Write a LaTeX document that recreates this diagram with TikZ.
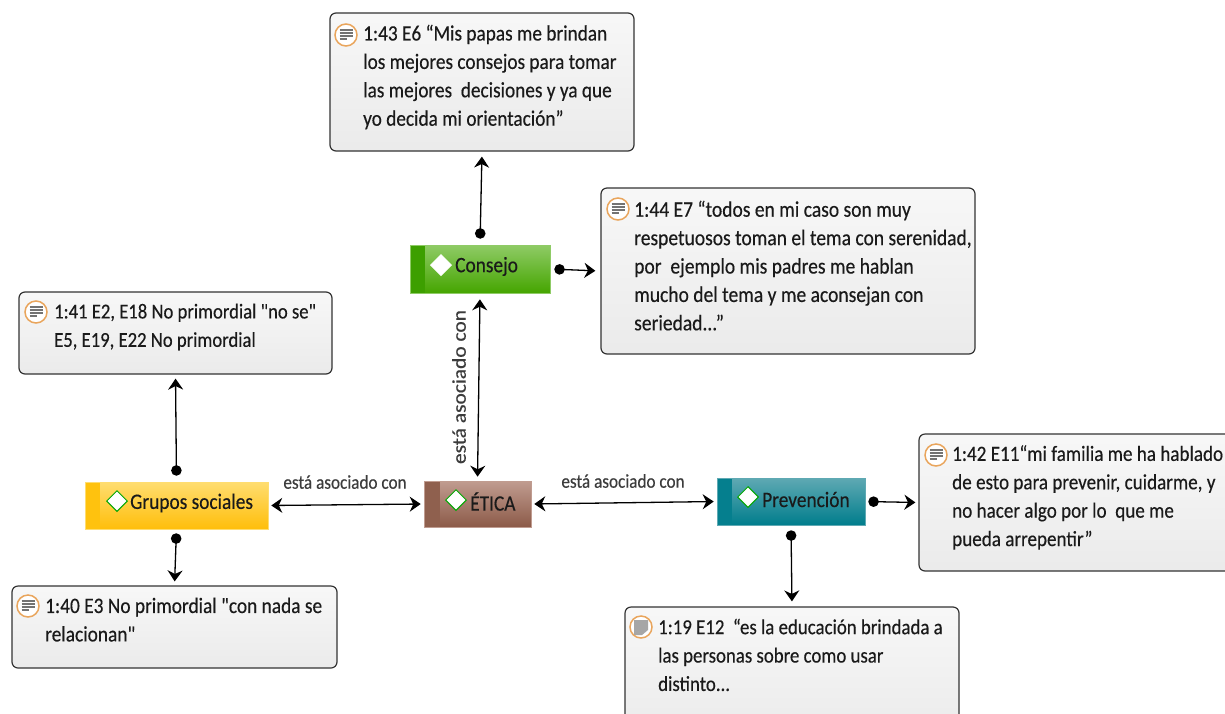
\documentclass[tikz,border=0pt]{standalone}
\usepackage{fontspec}
\setmainfont[Ligatures=TeXOff,FakeStretch=0.88,FakeBold=0.35]{Carlito}
\usetikzlibrary{arrows.meta,shapes.geometric}
\definecolor{txt}{HTML}{1A1A1A}
\definecolor{ring}{HTML}{E9A55C}
\definecolor{cgreen}{HTML}{45A500}
\definecolor{cgreenl}{HTML}{8FCB66}
\definecolor{cgreens}{HTML}{3D9F00}
\definecolor{cbrown}{HTML}{8C5A48}
\definecolor{cbrownl}{HTML}{C09C90}
\definecolor{cbrowns}{HTML}{8F604E}
\definecolor{cyel}{HTML}{FFBE0A}
\definecolor{cyell}{HTML}{FFDD70}
\definecolor{cyels}{HTML}{FFC20E}
\definecolor{cteal}{HTML}{007D8C}
\definecolor{ctealt}{HTML}{5FA9B3}
\definecolor{cteals}{HTML}{057F8E}
\tikzset{
  x=1pt,y=-1pt,
  memo/.style={draw=black!80,line width=1.2pt,rounded corners=6pt,top color=white!97!black,bottom color=white!92!black,inner sep=0pt},
  memotext/.style={anchor=north west,align=left,inner sep=0pt,text=txt,font=\fontsize{#1}{28.4}\selectfont},
  memotext/.default=22,
  codetext/.style={inner sep=0pt,text=txt,font=\fontsize{22}{24}\selectfont},
  codeicon/.style={diamond,aspect=1,fill=white,draw=#1,line width=1pt,inner sep=0pt,minimum size=21pt},
  link/.style={line width=1.3pt,black,{Stealth[length=11pt,width=15pt]}-{Stealth[length=11pt,width=15pt]}},
  dotlink/.style={line width=1.3pt,black,{Circle[length=10.5pt,width=10.5pt]}-{Stealth[length=11pt,width=15pt]}},
  rel/.style={inner sep=0pt,text=txt!85,font=\fontsize{19.5}{20}\selectfont},
  iconring/.style={circle,draw=ring,line width=1.5pt,fill=white,minimum size=22pt,inner sep=0pt},
}
\newcommand{\memoicon}[3]{%
  \node[iconring] (#1) at (#2,#3) {};
  \foreach \dy/\w in {-5.2/6.5,-2.1/6.5,1/6.5,4.1/3.5}
    \draw[black!55,line width=1.4pt] (#2-6.5,#3+\dy) -- (#2-6.5+2*\w,#3+\dy);
}
\begin{document}
\begin{tikzpicture}
\useasboundingbox (0,0) rectangle (1225,713);
\clip (0,0) rectangle (1225,713);
% memos
\node[memo,minimum width=304pt,minimum height=138pt] (m43) at (482,82) {};
\node[memo,minimum width=374pt,minimum height=166pt] (m44) at (788,271) {};
\node[memo,minimum width=313pt,minimum height=82pt] (m41) at (175.5,333) {};
\node[memo,minimum width=325pt,minimum height=82pt] (m40) at (174.5,627) {};
\node[memo,minimum width=330pt,minimum height=137pt] (m42) at (1084,502.5) {};
\node[memo,minimum width=334pt,minimum height=130pt] (m19) at (792,672) {};
% memo text
\node[memotext=21.9] (t43) at (363,24.5) {1:43 E6 “Mis papas me brindan\\los mejores consejos para tomar\\las mejores\ \ decisiones y ya que\\yo decida mi orientación”};
\node[memotext=22.2] (t44) at (634,200.5) {1:44 E7 “todos en mi caso son muy\\respetuosos toman el tema con serenidad,\\por\ \ ejemplo mis padres me hablan\\mucho del tema y me aconsejan con\\seriedad...”};
\node[memotext=21.2] (t41) at (54,303.5) {1:41 E2, E18 No primordial "no se"\\E5, E19, E22 No primordial};
\node[memotext=22] (t40) at (45,597.5) {1:40 E3 No primordial "con nada se\\relacionan"};
\node[memotext=21.7] (t42) at (952,445) {1:42 E11“mi familia me ha hablado\\de esto para prevenir, cuidarme, y\\no hacer algo por lo\ \ que me\\pueda arrepentir”};
\node[memotext=21.4] (t19) at (658,618.5) {1:19 E12\ \ “es la educación brindada a\\las personas sobre como usar\\distinto...};
% memo icons
\memoicon{i43}{346}{35}
\memoicon{i44}{618}{209}
\memoicon{i41}{36}{312}
\memoicon{i40}{28}{606}
\memoicon{i42}{936}{455}
\node[iconring] (i19) at (641,627) {};
\fill[black!35] (634,620) -- (648,620) -- (648,630) -- (642,635) -- (634,635) -- cycle;
% codes
\node[inner sep=0pt,draw=cgreenl,line width=.6pt,top color=cgreenl,bottom color=cgreen,minimum width=140pt,minimum height=48pt] (consejo) at (480,269) {};
\fill[cgreens] (410.5,245.5) rectangle (425,292.5);
\node[inner sep=0pt,draw=cbrownl,line width=.6pt,top color=cbrownl,bottom color=cbrown,minimum width=107pt,minimum height=46pt] (etica) at (477.5,504) {};
\fill[cbrowns] (424.5,481.5) rectangle (440,526.5);
\node[inner sep=0pt,draw=cyell,line width=.6pt,top color=cyell,bottom color=cyel,minimum width=183pt,minimum height=47pt] (grupos) at (176.5,505.5) {};
\fill[cyels] (85.5,482.5) rectangle (100,528.5);
\node[inner sep=0pt,draw=ctealt,line width=.6pt,top color=ctealt,bottom color=cteal,minimum width=148pt,minimum height=47pt] (prev) at (791,501.5) {};
\fill[cteals] (717.5,478.5) rectangle (732,524.5);
% code icons
\node[codeicon=white] (dc) at (441,265) {};
\node[codeicon=green!65!black] (de) at (456,500) {};
\node[codeicon=green!65!black] (dg) at (117,501) {};
\node[codeicon=green!65!black] (dp) at (748,497) {};
% code labels
\node[codetext,anchor=west] (lc) at (455,266.5) {Consejo};
\node[codetext,anchor=west] (le) at (470,501.5) {ÉTICA};
\node[codetext,anchor=west] (lg) at (130,503) {Grupos sociales};
\node[codetext,anchor=west] (lp) at (762,499.5) {Prevención};
% connectors
\draw[dotlink,shorten <=6pt,shorten >=5pt] (consejo.north) -- (m43.south);
\draw[dotlink,shorten <=4pt,shorten >=5pt] (consejo.east) -- (m44.west);
\draw[link,shorten <=6pt,shorten >=4pt] (consejo.south) -- (etica.north);
\draw[link,shorten <=3pt,shorten >=3pt] (grupos.east) -- (etica.west);
\draw[link,shorten <=3pt,shorten >=3pt] (etica.east) -- (prev.west);
\draw[dotlink,shorten <=6pt,shorten >=4pt] (grupos.north) -- (m41.south);
\draw[dotlink,shorten <=4pt,shorten >=4pt] (grupos.south) -- (m40.north);
\draw[dotlink,shorten <=3pt,shorten >=3pt] (prev.east) -- (m42.west);
\draw[dotlink,shorten <=5pt,shorten >=5pt] (prev.south) -- (m19.north);
% relation labels
\node[rel] (r1) at (345,482) {está asociado con};
\node[rel] (r2) at (623,481) {está asociado con};
\node[rel,rotate=90] (r3) at (459,387) {\scalebox{1.25}[1]{está asociado con}};
\end{tikzpicture}
\end{document}
